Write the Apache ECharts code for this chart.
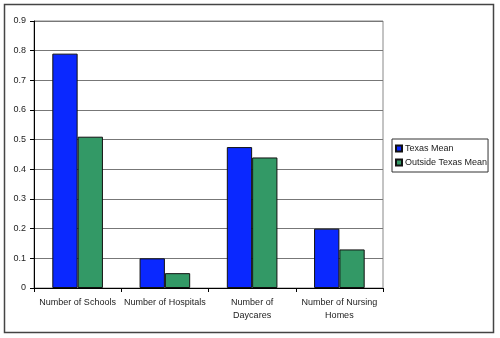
<!DOCTYPE html>
<html>
<head>
<meta charset="utf-8">
<style>
  html, body { margin: 0; padding: 0; background: #fff; }
  #chart { width: 500px; height: 338px; }
</style>
<script src="https://cdn.jsdelivr.net/npm/echarts@6/dist/echarts.min.js"></script>
</head>
<body>
<div id="chart"></div>
<script>
// Facility counts per area: mean for Texas vs. outside Texas
const categories = ['Number of Schools', 'Number of Hospitals', 'Number of\nDaycares', 'Number of Nursing\nHomes'];
const texasMean = [0.79, 0.10, 0.475, 0.20];
const outsideTexasMean = [0.51, 0.05, 0.44, 0.13];
const seriesNames = ['Texas Mean', 'Outside Texas Mean'];

const font = 'Liberation Sans, Arial, sans-serif';
const chart = echarts.init(document.getElementById('chart'), null, { renderer: 'canvas' });

chart.setOption({
  animation: false,
  backgroundColor: '#fff',
  graphic: [{
    type: 'rect',
    shape: { x: 4.5, y: 4.5, width: 489, height: 328 },
    style: { fill: 'none', stroke: '#444', lineWidth: 1.5 },
    z: -1
  }],
  grid: {
    left: 34, top: 21, right: 117, bottom: 50,
    show: true, borderColor: '#888', borderWidth: 1, backgroundColor: '#fff'
  },
  legend: {
    orient: 'vertical',
    left: 392, top: 139,
    padding: [5, 1, 5, 3],
    itemGap: 5,
    itemWidth: 6, itemHeight: 6,
    icon: 'rect',
    borderColor: '#333', borderWidth: 1,
    backgroundColor: '#fff',
    textStyle: { fontFamily: font, fontSize: 9, color: '#222', padding: [0, 0, 0, -2] },
    data: seriesNames
  },
  xAxis: {
    type: 'category',
    data: categories,
    axisLine: { lineStyle: { color: '#000', width: 1 } },
    axisTick: { show: true, length: 4, lineStyle: { color: '#000' } },
    axisLabel: { fontFamily: font, fontSize: 9, color: '#222', margin: 8, lineHeight: 13, interval: 0 }
  },
  yAxis: {
    type: 'value',
    min: 0, max: 0.9, interval: 0.1,
    axisLine: { show: true, lineStyle: { color: '#000', width: 1 } },
    axisTick: { show: true, length: 4, lineStyle: { color: '#000' } },
    axisLabel: { fontFamily: font, fontSize: 9, color: '#222', margin: 8,
      formatter: v => (v === 0 ? '0' : String(Math.round(v * 10) / 10)) },
    splitLine: { show: true, lineStyle: { color: '#777', width: 1 } }
  },
  series: [
    {
      name: seriesNames[0], type: 'bar', data: texasMean,
      barGap: '0%', barCategoryGap: '42%',
      itemStyle: { color: '#0A28FF', borderColor: '#111', borderWidth: 1 }
    },
    {
      name: seriesNames[1], type: 'bar', data: outsideTexasMean,
      itemStyle: { color: '#339966', borderColor: '#111', borderWidth: 1 }
    }
  ]
});
</script>
</body>
</html>
